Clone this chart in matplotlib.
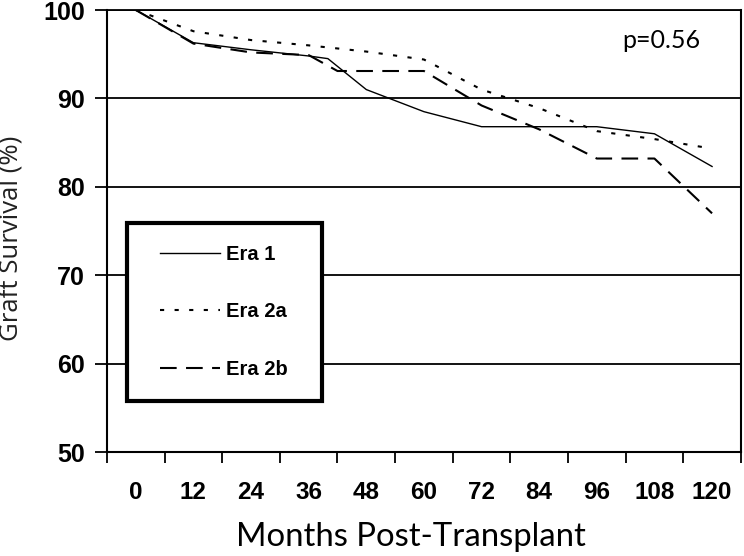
import numpy as np
import matplotlib.pyplot as plt
from matplotlib.patches import Rectangle

# months post-transplant and graft survival (%)
era1_months = [0, 12, 24, 36, 40, 48, 60, 72, 84, 96, 108, 120]
era1_surv = [100, 96.3, 95.5, 94.8, 94.5, 91.0, 88.5, 86.8, 86.8, 86.8, 86.0, 82.3]

era2a_months = [0, 12, 24, 36, 48, 60, 72, 84, 96, 108, 118]
era2a_surv = [100, 97.6, 96.6, 96.0, 95.3, 94.4, 91.0, 88.9, 86.3, 85.4, 84.5]

era2b_months = [0, 12, 24, 36, 42, 60, 72, 84, 96, 108, 120]
era2b_surv = [100, 96.2, 95.2, 94.9, 93.1, 93.1, 89.2, 86.5, 83.2, 83.2, 77.0]

tick_months = [0, 12, 24, 36, 48, 60, 72, 84, 96, 108, 120]
y_ticks = [50, 60, 70, 80, 90, 100]

fig = plt.figure(figsize=(7.44, 5.56), dpi=100)
ax = fig.add_axes([0.1438, 0.187, 0.852, 0.795])


# category style axis: one slot per 12 months
def pos(m):
    return np.array(m) / 12.0


ax.plot(pos(era1_months), era1_surv, color="black", lw=1.0, ls="-", label="Era 1")
ax.plot(pos(era2a_months), era2a_surv, color="black", lw=1.5, ls=(0, (2, 5)), label="Era 2a")
ax.plot(pos(era2b_months), era2b_surv, color="black", lw=1.5, ls=(0, (8, 4.5)), label="Era 2b")

ax.set_xlim(-0.5, 10.5)
ax.set_ylim(50, 100)

for y in y_ticks[1:]:
    ax.axhline(y, color="black", lw=1.3, zorder=0)

ax.set_yticks(y_ticks)
ax.set_yticklabels([str(v) for v in y_ticks], fontfamily="Liberation Sans", fontweight="bold", fontsize=18)
ax.tick_params(axis="y", length=9, width=1.3, pad=7)

ax.set_xticks(np.arange(-0.5, 11, 1))
ax.set_xticklabels([])
ax.set_xticks(pos(tick_months), minor=True)
ax.set_xticklabels([str(m) for m in tick_months], minor=True,
                   fontfamily="Liberation Sans", fontweight="bold", fontsize=17.5)
ax.tick_params(axis="x", which="major", length=8, width=1.3)
ax.tick_params(axis="x", which="minor", length=0, pad=21)

for side in ["left", "bottom", "right", "top"]:
    ax.spines[side].set_linewidth(1.5)
ax.spines["top"].set_linewidth(1.3)

ax.set_xlabel("Months Post-Transplant", fontfamily="Lato", fontsize=23.7)
ax.xaxis.set_label_coords(0.479, -0.158)
ax.set_ylabel("Graft Survival (%)", fontfamily="Open Sans", fontsize=18.5, color="#222222")
ax.yaxis.set_label_coords(-0.131, 0.484)

ax.text(0.874, 0.93, "p=0.56", transform=ax.transAxes, ha="center", va="center",
        fontfamily="Lato", fontsize=18)

# legend box drawn separately so its padding matches
ax.add_patch(Rectangle((0.0315, 0.115), 0.3075, 0.403, transform=ax.transAxes,
                       facecolor="white", edgecolor="black", lw=3, zorder=3))
leg = ax.legend(loc="upper left", bbox_to_anchor=(0.0836, 0.468), frameon=False,
                handlelength=3.0, handletextpad=0.26, labelspacing=1.9,
                borderpad=0, borderaxespad=0,
                prop={"family": "Liberation Sans", "weight": "bold", "size": 14.5})
leg.set_zorder(4)

fig.savefig("out.png", dpi=100)
